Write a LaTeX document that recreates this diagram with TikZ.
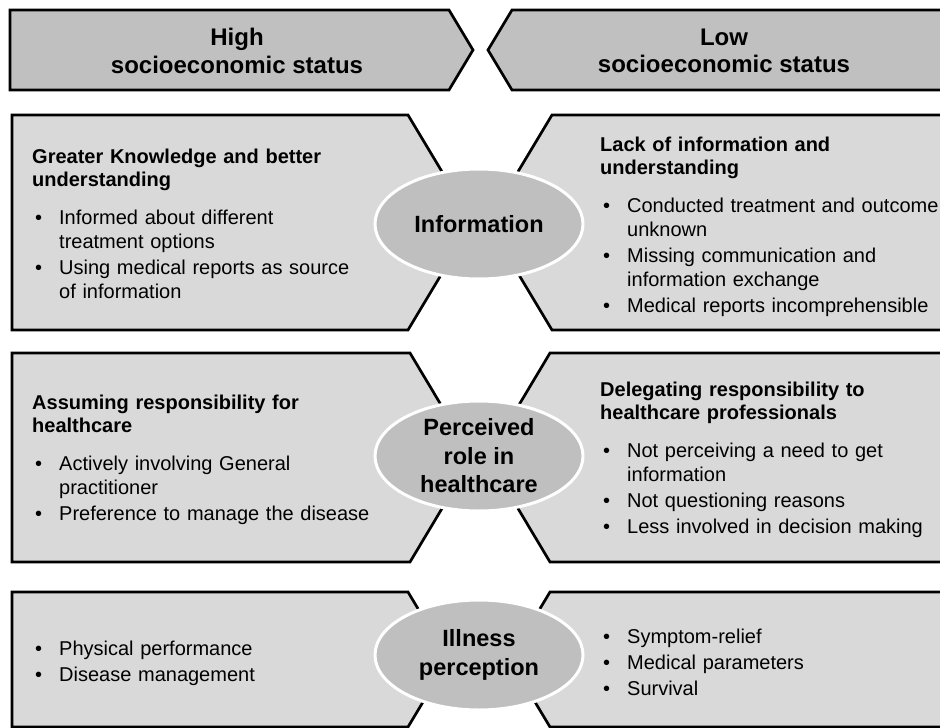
\documentclass[tikz,border=0pt]{standalone}
\usepackage{fontspec}
\setmainfont{Liberation Sans}
\usetikzlibrary{shapes.geometric}
\definecolor{hdrgray}{RGB}{192,192,192}
\definecolor{boxgray}{RGB}{217,217,217}
\definecolor{ellgray}{RGB}{191,191,191}
\newcommand{\ttl}[1]{{\fontsize{20}{23}\selectfont\bfseries #1\par}\vspace{14pt}}
\newcommand{\itm}[1]{{\hangindent=27pt\hangafter=1\makebox[27pt][l]{\hspace{3pt}\textbullet}#1\par}\vspace{2pt}}

\begin{document}
\begin{tikzpicture}[x=1pt,y=-1pt,
    frame/.style={draw=black,line width=2.7pt},
    hdr/.style={frame,fill=hdrgray},
    panel/.style={frame,fill=boxgray},
    head/.style={align=center,font=\fontsize{24}{27.5}\selectfont\bfseries},
    topic/.style={shape=ellipse,draw=white,line width=3pt,fill=ellgray,minimum width=208,minimum height=110,inner sep=0pt,align=center,font=\fontsize{23.5}{28.5}\selectfont\bfseries},
    txt/.style={anchor=base west,inner sep=0pt,text width=340pt,align=left,font=\fontsize{20}{24}\selectfont}]
    \useasboundingbox (0,0) rectangle (940,728);
    \clip (0,0) rectangle (940,728);
    % headers
    \draw[hdr] (10,10) -- (449,10) -- (473,50) -- (449,90) -- (10,90) -- cycle;
    \draw[hdr] (512,10) -- (950,10) -- (950,90) -- (512,90) -- (488,50) -- cycle;
    \node[head] (high) at (237,51) {High\\socioeconomic status};
    \node[head] (low) at (724,51) {Low\\socioeconomic status};
    % panels
    \draw[panel] (12,115) -- (408,115) -- (472.5,222.5) -- (408,330) -- (12,330) -- cycle;
    \draw[panel] (552,115) -- (950,115) -- (950,330) -- (552,330) -- (487.5,222.5) -- cycle;
    \draw[panel] (12,353) -- (410,353) -- (472.5,457.5) -- (410,562) -- (12,562) -- cycle;
    \draw[panel] (550,353) -- (950,353) -- (950,562) -- (550,562) -- (487.5,457.5) -- cycle;
    \draw[panel] (12,592) -- (408,592) -- (448.5,659.5) -- (408,727) -- (12,727) -- cycle;
    \draw[panel] (550,592) -- (950,592) -- (950,727) -- (550,727) -- (509.5,659.5) -- cycle;
    % topics
    \node[topic] (info) at (479,224) {Information};
    \node[topic] (role) at (479,456) {Perceived\\role in\\healthcare};
    \node[topic] (ill) at (479,655) {Illness\\perception};
    % texts
    \node[txt] (hinfo) at (32,163.5) {\ttl{Greater Knowledge and better\\understanding}
        \itm{Informed about different\newline treatment options}
        \itm{Using medical reports as source\newline of information}};
    \node[txt] (linfo) at (600,151.5) {\ttl{Lack of information and\\understanding}
        \itm{Conducted treatment and outcome\newline unknown}
        \itm{Missing communication and\newline information exchange}
        \itm{Medical reports incomprehensible}};
    \node[txt] (hrole) at (32,409.5) {\ttl{Assuming responsibility for\\healthcare}
        \itm{Actively involving General\newline practitioner}
        \itm{Preference to manage the disease}};
    \node[txt] (lrole) at (600,396.5) {\ttl{Delegating responsibility to\\healthcare professionals}
        \itm{Not perceiving a need to get\newline information}
        \itm{Not questioning reasons}
        \itm{Less involved in decision making}};
    \node[txt] (hill) at (32,655.5) {\itm{Physical performance}
        \itm{Disease management}};
    \node[txt] (lill) at (600,643.5) {\itm{Symptom-relief}
        \itm{Medical parameters}
        \itm{Survival}};
\end{tikzpicture}
\end{document}
